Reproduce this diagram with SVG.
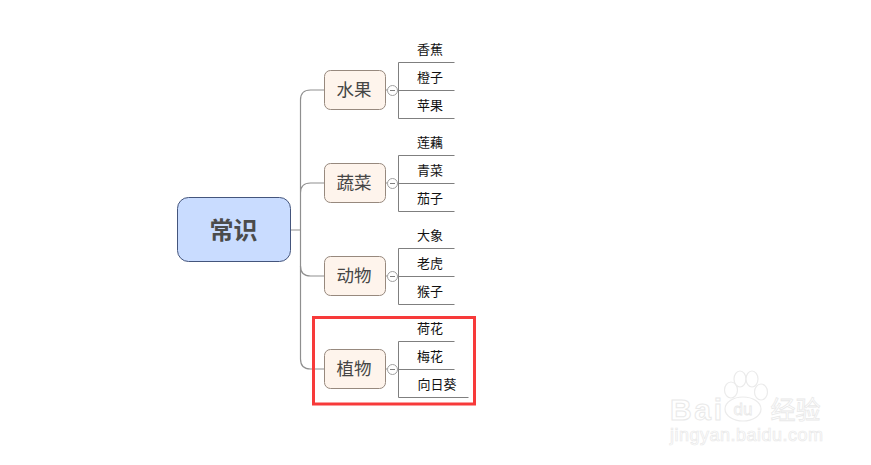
<svg xmlns="http://www.w3.org/2000/svg" width="871" height="465" viewBox="0 0 871 465">
<style>
text{font-family:"Noto Sans CJK SC","Liberation Sans",sans-serif;text-anchor:middle}
.c{fill:none;stroke:#8f8f8f;stroke-width:1.2}
.l{fill:none;stroke:#7f7f7f;stroke-width:1}
.t{fill:#fef4ec;stroke:#97897e;stroke-width:1}
.tt{font-size:17.500px;fill:#454545}
.lf{font-size:13px;fill:#111}
.k{fill:#fff;stroke:#a0a0a0;stroke-width:1}
.w{fill:#fff;stroke:#ebebeb;stroke-width:1.200}
.wt{fill:#fff;stroke:#e9e9e9}
.wl{font-family:"Liberation Sans",sans-serif}
</style>
<rect width="871" height="465" fill="#fff"/>
<g id="connectors">
<path class="c" d="M290.500 230H300.500M324 90H310.500Q300.500 90 300.500 100V359Q300.500 369 310.500 369H324M324 183H310.500Q300.500 183 300.500 193"/>
<path class="c" d="M300.500 266Q300.500 276 310.500 276H324"/>
<path class="c" d="M385.500 90H388M385.500 183H388M385.500 276H388M385.500 369H388"/>
<path class="l" d="M397 90.500H398.500M398.500 62.500H454.500M398.500 62.500V118.500H454.500M398.500 90.500H454.500"/>
<path class="l" d="M397 183.500H398.500M398.500 155.500H454.500M398.500 155.500V211.500H454.500M398.500 183.500H454.500"/>
<path class="l" d="M397 276.500H398.500M398.500 248.500H454.500M398.500 248.500V304.500H454.500M398.500 276.500H454.500"/>
<path class="l" d="M397 369.500H398.500M398.500 341.500H454.500M398.500 341.500V397.500H468.500M398.500 369.500H454.500"/>
</g>
<g id="root"><rect x="177.500" y="197.500" width="113" height="64" rx="11" fill="#c9dcff" stroke="#44557c"/><text x="233.500" y="239" font-size="24" font-weight="700" fill="#4b4b4b">常识</text></g>
<g id="n1"><rect class="t" x="324.500" y="70.500" width="61" height="39" rx="6"/><text class="tt" x="354" y="96">水果</text><circle class="k" cx="392.500" cy="90.500" r="5"/><path class="l" d="M390 90.500H395"/></g>
<g id="n2"><rect class="t" x="324.500" y="163.500" width="61" height="39" rx="6"/><text class="tt" x="354" y="189">蔬菜</text><circle class="k" cx="392.500" cy="183.500" r="5"/><path class="l" d="M390 183.500H395"/></g>
<g id="n3"><rect class="t" x="324.500" y="256.500" width="61" height="39" rx="6"/><text class="tt" x="354" y="282">动物</text><circle class="k" cx="392.500" cy="276.500" r="5"/><path class="l" d="M390 276.500H395"/></g>
<g id="n4"><rect class="t" x="324.500" y="349.500" width="61" height="39" rx="6"/><text class="tt" x="354" y="375">植物</text><circle class="k" cx="392.500" cy="369.500" r="5"/><path class="l" d="M390 369.500H395"/></g>
<g id="leaves">
<text class="lf" x="430" y="54">香蕉</text><text class="lf" x="430" y="82">橙子</text><text class="lf" x="430" y="110">苹果</text>
<text class="lf" x="430" y="147">莲藕</text><text class="lf" x="430" y="175">青菜</text><text class="lf" x="430" y="203">茄子</text>
<text class="lf" x="430" y="240">大象</text><text class="lf" x="430" y="268">老虎</text><text class="lf" x="430" y="296">猴子</text>
<text class="lf" x="430" y="333">荷花</text><text class="lf" x="430" y="361">梅花</text><text class="lf" x="437" y="389">向日葵</text>
</g>
<rect x="313.500" y="317.500" width="161" height="86.500" fill="none" stroke="#f73a3a" stroke-width="3"/>
<g id="watermark">
<ellipse class="w" cx="731" cy="390" rx="6.500" ry="8"/><ellipse class="w" cx="740" cy="379" rx="6" ry="8"/><ellipse class="w" cx="752" cy="379" rx="6" ry="8"/><ellipse class="w" cx="761" cy="392" rx="6.500" ry="8"/>
<ellipse class="w" cx="743" cy="409" rx="18" ry="12"/>
<text class="wt wl" x="696" y="420" font-size="30" font-weight="700" textLength="52">Bai</text>
<text class="wt wl" x="743" y="415" font-size="17" stroke-width=".8">du</text>
<text class="wt" x="795.500" y="419" font-size="25" stroke-width=".8">经验</text>
<text class="wt wl" x="746.500" y="441" font-size="18" stroke-width=".7" textLength="153">jingyan.baidu.com</text>
</g>
</svg>
